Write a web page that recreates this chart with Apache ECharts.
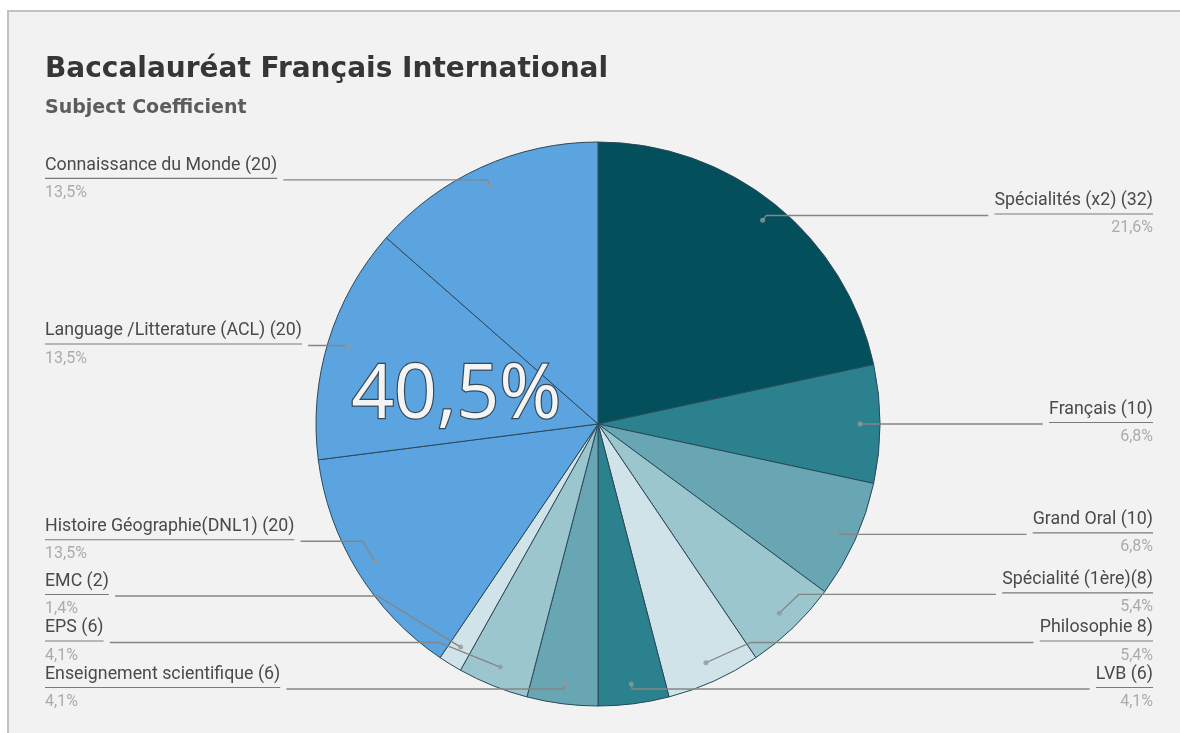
<!DOCTYPE html>
<html><head><meta charset="utf-8">
<script src="https://cdn.jsdelivr.net/npm/echarts@6/dist/echarts.min.js"></script>
<style>html,body{margin:0;padding:0;background:#fff}#c{width:1180px;height:733px}</style>
</head><body><div id="c"></div>
<script>
const titleText = 'Baccalauréat Français International';
const subtitleText = 'Subject Coefficient';
const categories = [
  'Spécialités (x2) (32)', 'Français (10)', 'Grand Oral (10)', 'Spécialité (1ère)(8)',
  'Philosophie 8)', 'LVB (6)', 'Enseignement scientifique (6)', 'EPS (6)', 'EMC (2)',
  'Histoire Géographie(DNL1) (20)', 'Language /Litterature (ACL) (20)', 'Connaissance du Monde (20)'
];
const values = [32, 10, 10, 8, 8, 6, 6, 6, 2, 20, 20, 20];
const palette = ['#03505c', '#2b818d', '#67a6b2', '#9bc6cd', '#cfe3e8', '#2b818d', '#67a6b2', '#9bc6cd', '#cfe3e8', '#5ca4e0', '#5ca4e0', '#5ca4e0'];
const bigNote = '40,5%';

const total = values.reduce((a, b) => a + b, 0);
const fmtPct = v => (v / total * 100).toFixed(1).replace('.', ',') + '%';
// cumulative mid-point of each slice (in value units), used for label grouping and dots
const mids = [];
values.reduce((acc, v) => { mids.push(acc + v / 2); return acc + v; }, 0);
const isUpper = mids.map(m => Math.cos(m / total * 2 * Math.PI) > -0.2);

const data = categories.map((n, i) => ({ name: n, value: values[i], itemStyle: { color: palette[i] } }));

const labelCommon = {
  position: 'outside', alignTo: 'edge', edgeDistance: 0,
  formatter: p => '{n|' + p.name + '}\n{hr|}\n{p|' + fmtPct(p.value) + '}',
  rich: {
    n: { fontFamily: 'Roboto', fontSize: 17.8, color: '#4a4a4a', lineHeight: 26 },
    hr: { borderColor: '#7a7a7a', width: '100%', borderWidth: 1.2, height: 0 },
    p: { fontFamily: 'Roboto', fontSize: 16, color: '#ababab', lineHeight: 29 }
  }
};
function labelSeries(wantUpper) {
  return {
    type: 'pie', silent: true, z: 3, left: 45, right: 27, top: 130, bottom: 22,
    center: [553, 294], radius: 262, startAngle: 90, clockwise: true,
    itemStyle: { color: 'rgba(0,0,0,0)', borderWidth: 0 },
    label: Object.assign({ show: true }, labelCommon),
    labelLine: { show: true, length: 6, length2: 8, lineStyle: { color: '#858585', width: 1.3 } },
    data: categories.map((n, i) => {
      const on = isUpper[i] === wantUpper;
      return { name: n, value: values[i], label: { show: on }, labelLine: { show: on } };
    })
  };
}

const chart = echarts.init(document.getElementById('c'));
chart.setOption({
  backgroundColor: '#ffffff',
  animation: false,
  title: {
    text: titleText, subtext: subtitleText, left: 45, top: 56, padding: 0, itemGap: 15,
    textStyle: { fontFamily: 'DejaVu Sans', fontWeight: 'bold', fontSize: 28, color: '#363636' },
    subtextStyle: { fontFamily: 'DejaVu Sans', fontWeight: 'bold', fontSize: 19, color: '#5c5c5c' }
  },
  polar: { center: [598, 424], radius: 282 },
  angleAxis: { type: 'value', min: 0, max: total, startAngle: 90, clockwise: true, show: false },
  radiusAxis: { type: 'value', min: 0, max: 282, show: false },
  graphic: [
    { type: 'rect', z: -10, shape: { x: 8, y: 11, width: 1200, height: 760 },
      style: { fill: '#f2f2f2', stroke: '#c2c2c2', lineWidth: 2 } },
    { type: 'text', z: 100, left: 350, top: 358,
      style: { text: bigNote, font: '75px "Open Sans"', fill: '#f4f4f4', stroke: '#34495a', lineWidth: 2.4,
               shadowColor: 'rgba(0,0,0,0.35)', shadowBlur: 4, shadowOffsetX: 1, shadowOffsetY: 2 } }
  ],
  series: [
    {
      type: 'pie', silent: true, left: 0, top: 0, width: 1180, height: 733,
      center: [598, 424], radius: 282, startAngle: 90, clockwise: true,
      label: { show: false }, labelLine: { show: false },
      itemStyle: { borderColor: '#2a4a5a', borderWidth: 1 },
      data: data
    },
    labelSeries(true),
    labelSeries(false),
    {
      type: 'scatter', coordinateSystem: 'polar', silent: true, z: 4,
      symbolSize: 5, itemStyle: { color: '#8f9a9f' },
      data: mids.map(m => [262, m])
    }
  ]
});
</script></body></html>
